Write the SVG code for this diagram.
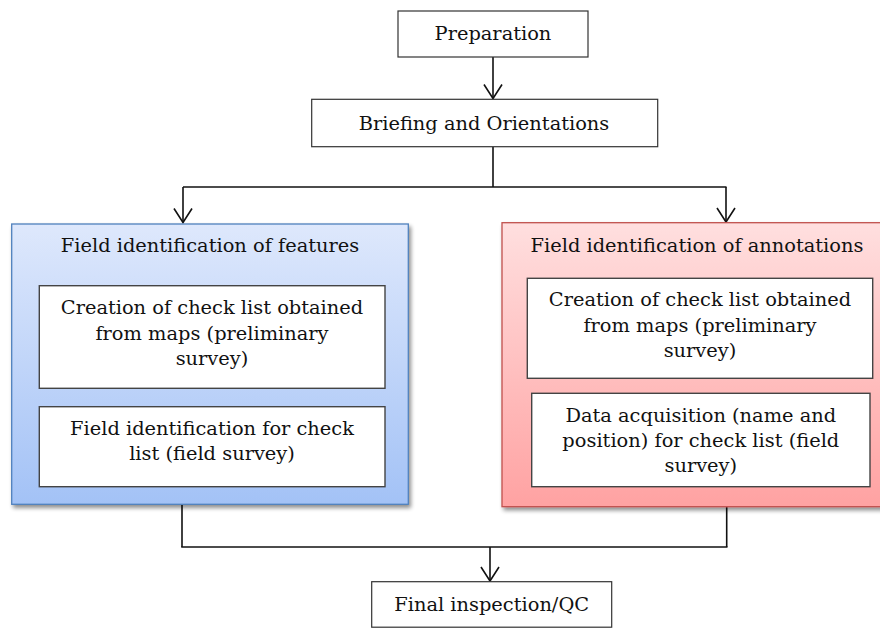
<svg xmlns="http://www.w3.org/2000/svg" width="880" height="628" viewBox="0 0 880 628">
  <style>
    text { font-family: "DejaVu Serif", "Liberation Serif", serif; font-size: 19.4px; fill: #111; text-anchor: middle; }
    .box { fill: #ffffff; stroke: #333333; stroke-width: 1.2; }
    .inner { fill: #ffffff; stroke: #444444; stroke-width: 1.4; }
    .link { fill: none; stroke: #111111; stroke-width: 1.6; }
  </style>
  <defs>
    <linearGradient id="blueFill" x1="0" y1="0" x2="0" y2="1">
      <stop offset="0" stop-color="#dee8fc"/>
      <stop offset="1" stop-color="#a3c2f6"/>
    </linearGradient>
    <linearGradient id="redFill" x1="0" y1="0" x2="0" y2="1">
      <stop offset="0" stop-color="#ffdfdf"/>
      <stop offset="1" stop-color="#ffa2a2"/>
    </linearGradient>
    <filter id="shadow" x="-10%" y="-10%" width="130%" height="130%">
      <feGaussianBlur in="SourceAlpha" stdDeviation="2"/>
      <feOffset dx="2" dy="3" result="b"/>
      <feComponentTransfer><feFuncA type="linear" slope="0.45"/></feComponentTransfer>
      <feMerge><feMergeNode/><feMergeNode in="SourceGraphic"/></feMerge>
    </filter>
    <!-- open V arrowhead, tip at the line end -->
    <marker id="arrow" markerUnits="userSpaceOnUse" markerWidth="18" markerHeight="22" viewBox="-16 -11 18 22" refX="0" refY="0" orient="auto">
      <path d="M-14,-9 L0,0 L-14,9" fill="none" stroke="#111111" stroke-width="1.6"/>
    </marker>
  </defs>

  <!-- connectors -->
  <g id="connectors">
    <line class="link" x1="493" y1="57" x2="493" y2="98.5" marker-end="url(#arrow)"/>
    <polyline class="link" points="493,147 493,187"/>
    <line class="link" x1="183" y1="187" x2="726.5" y2="187"/>
    <line class="link" x1="183" y1="187" x2="183" y2="222.5" marker-end="url(#arrow)"/>
    <line class="link" x1="726" y1="187" x2="726" y2="222" marker-end="url(#arrow)"/>
    <line class="link" x1="182" y1="505" x2="182" y2="547"/>
    <line class="link" x1="726.7" y1="507" x2="726.7" y2="547"/>
    <line class="link" x1="181.2" y1="547" x2="727.5" y2="547"/>
    <line class="link" x1="490" y1="547" x2="490" y2="581" marker-end="url(#arrow)"/>
  </g>

  <g id="preparation">
    <rect class="box" x="398" y="11" width="190" height="46"/>
    <text x="493" y="39.5">Preparation</text>
  </g>

  <g id="briefing">
    <rect class="box" x="311.7" y="99.3" width="346" height="47.4"/>
    <text x="484" y="129.5">Briefing and Orientations</text>
  </g>

  <g id="features">
    <rect x="11.7" y="224" width="396.6" height="280.3" fill="url(#blueFill)" stroke="#4f81bd" stroke-width="1.3" filter="url(#shadow)"/>
    <text x="210" y="251.7">Field identification of features</text>
    <g id="features-checklist">
      <rect class="inner" x="39.3" y="285.7" width="345.7" height="102.6"/>
      <text x="212" y="314">Creation of check list obtained</text>
      <text x="212" y="339.5">from maps (preliminary</text>
      <text x="212" y="365">survey)</text>
    </g>
    <g id="features-field">
      <rect class="inner" x="39.3" y="406.7" width="345.7" height="80"/>
      <text x="212" y="435">Field identification for check</text>
      <text x="212" y="460">list (field survey)</text>
    </g>
  </g>

  <g id="annotations">
    <rect x="502" y="222.7" width="390" height="284" fill="url(#redFill)" stroke="#c0504d" stroke-width="1.3" filter="url(#shadow)"/>
    <text x="697" y="251.7">Field identification of annotations</text>
    <g id="annotations-checklist">
      <rect class="inner" x="527.3" y="278.3" width="345.4" height="100"/>
      <text x="700" y="306">Creation of check list obtained</text>
      <text x="700" y="331.5">from maps (preliminary</text>
      <text x="700" y="356.7">survey)</text>
    </g>
    <g id="annotations-field">
      <rect class="inner" x="531.7" y="393.3" width="338.3" height="93.4"/>
      <text x="700.8" y="421.7">Data acquisition (name and</text>
      <text x="700.8" y="446.7">position) for check list (field</text>
      <text x="700.8" y="471.7">survey)</text>
    </g>
  </g>

  <g id="final">
    <rect class="box" x="371.7" y="581.7" width="240" height="45.5"/>
    <text x="491.7" y="611">Final inspection/QC</text>
  </g>
</svg>
